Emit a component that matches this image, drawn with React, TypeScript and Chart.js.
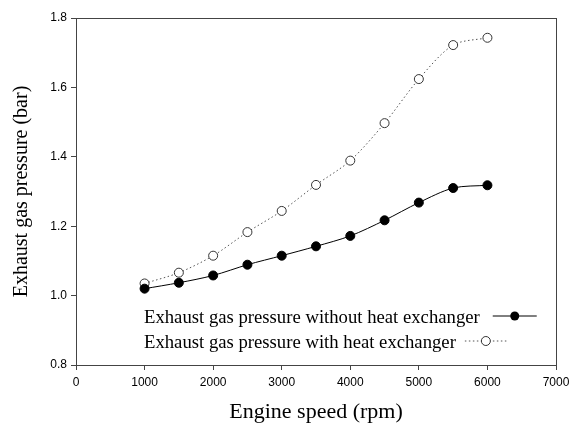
import React, { useEffect, useRef } from 'react';
import { Chart, registerables } from 'chart.js';

Chart.register(...registerables);

// ---- data ----
const engineSpeeds = [1000, 1500, 2000, 2500, 3000, 3500, 4000, 4500, 5000, 5500, 6000];
const pressureWithoutHX = [1.02, 1.037, 1.058, 1.089, 1.115, 1.142, 1.172, 1.217, 1.268, 1.31, 1.318];
const pressureWithHX = [1.035, 1.066, 1.115, 1.183, 1.244, 1.319, 1.389, 1.497, 1.624, 1.722, 1.743];
const seriesLabels = [
  'Exhaust gas pressure without heat exchanger',
  'Exhaust gas pressure with heat exchanger',
];
const xAxisTitle = 'Engine speed (rpm)';
const yAxisTitle = 'Exhaust gas pressure (bar)';
const xMin = 0, xMax = 7000, xStep = 1000;
const yMin = 0.8, yMax = 1.8, yStep = 0.2;

const SERIF = '"Liberation Serif", "Times New Roman", serif';
const SANS = '"Liberation Sans", Arial, sans-serif';

const framePlugin = {
  id: 'frameAndLegend',
  afterDraw(chart: any) {
    const { ctx, chartArea } = chart;
    const { left, top, right, bottom } = chartArea;
    ctx.save();
    // top and right frame lines
    ctx.strokeStyle = '#444';
    ctx.lineWidth = 1;
    ctx.beginPath();
    ctx.moveTo(left, Math.round(top) + 0.5);
    ctx.lineTo(right + 0.5, Math.round(top) + 0.5);
    ctx.moveTo(Math.round(right) + 0.5, top);
    ctx.lineTo(Math.round(right) + 0.5, bottom);
    ctx.stroke();

    // legend inside plot
    ctx.font = '18.7px ' + SERIF;
    ctx.fillStyle = '#000';
    ctx.textBaseline = 'middle';
    ctx.textAlign = 'left';
    const tx = left + 68;
    const rows = [top + 300, top + 325];
    // row 1
    ctx.fillText(seriesLabels[0], tx, rows[0]);
    let w = ctx.measureText(seriesLabels[0]).width;
    let sx = tx + w + 13;
    ctx.strokeStyle = '#000';
    ctx.setLineDash([]);
    ctx.beginPath();
    ctx.moveTo(sx, rows[0] - 2);
    ctx.lineTo(sx + 44, rows[0] - 2);
    ctx.stroke();
    ctx.fillStyle = '#000';
    ctx.beginPath();
    ctx.arc(sx + 22, rows[0] - 2, 4.5, 0, Math.PI * 2);
    ctx.fill();
    // row 2
    ctx.fillStyle = '#000';
    ctx.fillText(seriesLabels[1], tx, rows[1]);
    w = ctx.measureText(seriesLabels[1]).width;
    sx = tx + w + 9;
    ctx.strokeStyle = '#555';
    ctx.setLineDash([1.5, 2.5]);
    ctx.beginPath();
    ctx.moveTo(sx, rows[1] - 2);
    ctx.lineTo(sx + 42, rows[1] - 2);
    ctx.stroke();
    ctx.setLineDash([]);
    ctx.fillStyle = '#fff';
    ctx.strokeStyle = '#333';
    ctx.beginPath();
    ctx.arc(sx + 21, rows[1] - 2, 4.5, 0, Math.PI * 2);
    ctx.fill();
    ctx.stroke();
    ctx.restore();
  },
};

export default function App() {
  const canvasRef = useRef<HTMLCanvasElement | null>(null);

  useEffect(() => {
    document.body.style.margin = '0';
    const canvas = canvasRef.current;
    if (!canvas) return;
    const chart = new Chart(canvas, {
      type: 'line',
      data: {
        datasets: [
          {
            label: seriesLabels[0],
            data: engineSpeeds.map((x, i) => ({ x, y: pressureWithoutHX[i] })),
            borderColor: '#000',
            borderWidth: 1,
            backgroundColor: '#000',
            pointBackgroundColor: '#000',
            pointBorderColor: '#000',
            pointRadius: 4.5,
            pointBorderWidth: 1,
            tension: 0.3,
            fill: false,
          },
          {
            label: seriesLabels[1],
            data: engineSpeeds.map((x, i) => ({ x, y: pressureWithHX[i] })),
            borderColor: '#555',
            borderWidth: 1,
            borderDash: [1.5, 2.5],
            backgroundColor: '#fff',
            pointBackgroundColor: '#fff',
            pointBorderColor: '#333',
            pointRadius: 4.5,
            pointBorderWidth: 1,
            tension: 0.3,
            fill: false,
          },
        ],
      },
      options: {
        responsive: false,
        animation: false,
        maintainAspectRatio: false,
        layout: { padding: { left: 0, top: 18, right: 13, bottom: 0 } },
        plugins: {
          legend: { display: false },
          tooltip: { enabled: false },
        },
        scales: {
          x: {
            type: 'linear',
            min: xMin,
            max: xMax,
            afterFit: (s: any) => {
              s.height = 60;
              s.paddingLeft = 0;
              s.paddingRight = 0;
            },
            ticks: {
              stepSize: xStep,
              color: '#000',
              padding: 5,
              font: { family: SANS, size: 12 },
              maxRotation: 0,
              callback: (v: any) => String(v),
            },
            grid: { display: true, drawOnChartArea: false, drawTicks: true, tickLength: 5, color: '#444' },
            border: { display: true, color: '#444', width: 1 },
            title: {
              display: true,
              text: xAxisTitle,
              color: '#000',
              font: { family: SERIF, size: 22 },
              padding: { top: 0, bottom: 0 },
            },
          },
          y: {
            type: 'linear',
            min: yMin,
            max: yMax,
            afterFit: (s: any) => {
              s.width = 76;
              s.paddingTop = 0;
              s.paddingBottom = 0;
            },
            ticks: {
              stepSize: yStep,
              color: '#000',
              padding: 4,
              font: { family: SANS, size: 12 },
              callback: (v: any) => Number(v).toFixed(1),
            },
            grid: { display: true, drawOnChartArea: false, drawTicks: true, tickLength: 5, color: '#444' },
            border: { display: true, color: '#444', width: 1 },
            title: {
              display: true,
              text: yAxisTitle,
              color: '#000',
              font: { family: SERIF, size: 20 },
              padding: { top: 10, bottom: 0 },
            },
          },
        },
      },
      plugins: [framePlugin],
    });
    return () => chart.destroy();
  }, []);

  return (
    <div style={{ position: 'absolute', left: 0, top: 0, width: 569, height: 425, background: '#fff' }}>
      <canvas ref={canvasRef} width={569} height={425} style={{ display: 'block' }} />
    </div>
  );
}
